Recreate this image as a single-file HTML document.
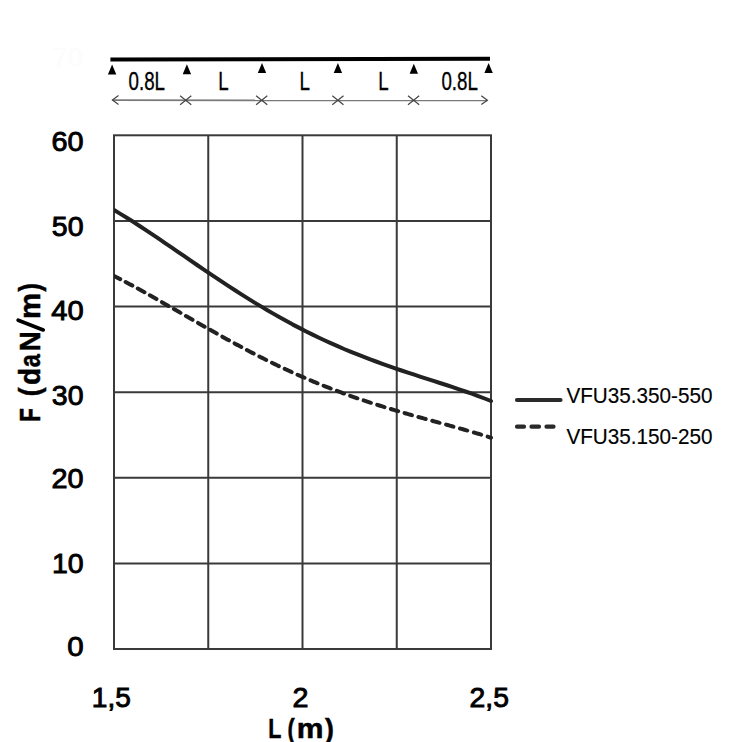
<!DOCTYPE html>
<html><head><meta charset="utf-8"><style>
html,body{margin:0;padding:0;background:#fff;}
svg{display:block;}
text{font-family:"Liberation Sans",sans-serif;}
</style></head><body>
<svg width="742" height="742" viewBox="0 0 742 742">
<rect width="742" height="742" fill="#fff"/>
<text x="83" y="67.3" font-size="27.4" fill="#fcfcfc" text-anchor="end">70</text>
<!-- beam -->
<path d="M110.4 59.4 L490 58.7" stroke="#000" stroke-width="4" fill="none"/>
<g fill="#000">
<path d="M112.1 64.5 L116.3 74.5 L107.9 74.5 Z"/>
<path d="M186.9 64.3 L191.1 74.3 L182.7 74.3 Z"/>
<path d="M262.0 62.9 L266.2 72.9 L257.8 72.9 Z"/>
<path d="M337.9 62.9 L342.1 72.9 L333.7 72.9 Z"/>
<path d="M413.8 63.7 L418.0 73.7 L409.6 73.7 Z"/>
<path d="M488.6 62.9 L492.8 72.9 L484.4 72.9 Z"/>
</g>
<line x1="112.4" y1="100.2" x2="487.4" y2="100.4" stroke="#7a7a7a" stroke-width="1.8"/>
<g stroke="#444" stroke-width="1.2" fill="none">
<path d="M118.5 95.6 L112.4 100.1 L118.5 104.4"/>
<path d="M481.3 95.8 L487.4 100.3 L481.3 104.6"/>
<path d="M180.1 95.8 L185.7 100.3 L180.1 104.8 M191.3 95.8 L185.7 100.3 L191.3 104.8"/>
<path d="M256.1 95.8 L261.7 100.3 L256.1 104.8 M267.3 95.8 L261.7 100.3 L267.3 104.8"/>
<path d="M332.3 95.8 L337.9 100.3 L332.3 104.8 M343.5 95.8 L337.9 100.3 L343.5 104.8"/>
<path d="M408.0 95.8 L413.6 100.3 L408.0 104.8 M419.2 95.8 L413.6 100.3 L419.2 104.8"/>
</g>
<g font-size="26" fill="#000" stroke="#000" stroke-width="0.35" text-anchor="middle">
<text transform="translate(146.8 90.4) scale(0.72 1)" x="0" y="0">0.8L</text>
<text transform="translate(223.5 90.4) scale(0.72 1)" x="0" y="0">L</text>
<text transform="translate(304.6 90.4) scale(0.72 1)" x="0" y="0">L</text>
<text transform="translate(383.5 90.4) scale(0.72 1)" x="0" y="0">L</text>
<text transform="translate(459.6 90.4) scale(0.72 1)" x="0" y="0">0.8L</text>
</g>
<!-- grid -->
<g stroke="#3a3a3a" stroke-width="2" fill="none">
<line x1="208.25" y1="135.30" x2="208.25" y2="649.00"/>
<line x1="302.50" y1="135.30" x2="302.50" y2="649.00"/>
<line x1="396.75" y1="135.30" x2="396.75" y2="649.00"/>
<line x1="114.00" y1="220.92" x2="491.00" y2="220.92"/>
<line x1="114.00" y1="306.53" x2="491.00" y2="306.53"/>
<line x1="114.00" y1="392.15" x2="491.00" y2="392.15"/>
<line x1="114.00" y1="477.77" x2="491.00" y2="477.77"/>
<line x1="114.00" y1="563.38" x2="491.00" y2="563.38"/>
<rect x="114" y="135.3" width="377" height="513.7"/>
</g>
<!-- curves -->
<defs><clipPath id="pc"><rect x="114" y="100" width="400" height="560"/></clipPath></defs>
<g clip-path="url(#pc)">
<path d="M114.0 210.0 L120.4 213.9 L126.8 217.8 L133.2 221.8 L139.6 226.0 L145.9 230.2 L152.3 234.4 L158.7 238.7 L165.1 243.1 L171.5 247.4 L177.9 251.8 L184.3 256.2 L190.7 260.6 L197.1 265.0 L203.5 269.3 L209.8 273.6 L216.2 277.9 L222.6 282.2 L229.0 286.4 L235.4 290.5 L241.8 294.6 L248.2 298.6 L254.6 302.6 L261.0 306.4 L267.4 310.2 L273.7 313.9 L280.1 317.6 L286.5 321.1 L292.9 324.6 L299.3 327.9 L305.7 331.2 L312.1 334.4 L318.5 337.5 L324.9 340.5 L331.3 343.4 L337.6 346.2 L344.0 349.0 L350.4 351.6 L356.8 354.2 L363.2 356.7 L369.6 359.2 L376.0 361.5 L382.4 363.8 L388.8 366.1 L395.2 368.3 L401.5 370.5 L407.9 372.6 L414.3 374.7 L420.7 376.8 L427.1 378.8 L433.5 380.9 L439.9 383.0 L446.3 385.0 L452.7 387.2 L459.1 389.3 L465.4 391.5 L471.8 393.7 L478.2 396.1 L484.6 398.5 L491.0 401.0" stroke="#222" stroke-width="4" fill="none" stroke-linecap="round" stroke-linejoin="round"/>
<path d="M114.00 275.96 L115.24 276.59 L116.48 277.23 L117.72 277.86 L118.95 278.50 L120.19 279.14 M125.65 282.01 L126.99 282.73 L128.33 283.44 L129.67 284.16 L131.01 284.88 L132.35 285.61 M137.79 288.58 L139.12 289.31 L140.45 290.04 L141.78 290.78 L143.11 291.52 L144.44 292.26 M149.86 295.30 L151.19 296.05 L152.51 296.80 L153.83 297.55 L155.15 298.30 L156.48 299.05 M161.90 302.15 L163.22 302.90 L164.54 303.66 L165.86 304.42 L167.17 305.17 L168.49 305.93 M173.92 309.06 L175.24 309.82 L176.56 310.58 L177.87 311.34 L179.19 312.10 L180.51 312.86 M185.96 316.01 L187.28 316.77 L188.59 317.53 L189.91 318.29 L191.23 319.05 L192.54 319.81 M198.02 322.95 L199.34 323.71 L200.66 324.46 L201.98 325.22 L203.30 325.97 L204.62 326.72 M210.14 329.86 L211.46 330.61 L212.79 331.35 L214.11 332.10 L215.44 332.84 L216.76 333.59 M222.32 336.69 L223.65 337.43 L224.98 338.17 L226.31 338.90 L227.64 339.64 L228.97 340.37 M234.59 343.43 L235.92 344.15 L237.26 344.88 L238.60 345.60 L239.94 346.32 L241.28 347.03 M246.95 350.04 L248.29 350.75 L249.64 351.45 L250.99 352.16 L252.34 352.86 L253.68 353.56 M259.42 356.50 L260.77 357.19 L262.13 357.87 L263.49 358.56 L264.84 359.24 L266.20 359.92 M272.00 362.78 L273.37 363.45 L274.74 364.11 L276.10 364.77 L277.47 365.43 L278.84 366.09 M284.71 368.86 L286.09 369.51 L287.47 370.15 L288.85 370.79 L290.23 371.42 L291.61 372.05 M297.55 374.73 L298.94 375.35 L300.33 375.96 L301.72 376.57 L303.12 377.18 L304.51 377.79 M310.52 380.36 L311.92 380.95 L313.32 381.54 L314.73 382.13 L316.13 382.71 L317.54 383.29 M323.62 385.75 L325.03 386.31 L326.45 386.87 L327.86 387.43 L329.28 387.98 L330.69 388.53 M336.85 390.89 L338.27 391.42 L339.69 391.95 L341.12 392.48 L342.55 393.01 L343.97 393.53 M350.20 395.77 L351.63 396.28 L353.06 396.78 L354.50 397.28 L355.93 397.78 L357.37 398.28 M363.66 400.41 L365.10 400.89 L366.54 401.37 L367.98 401.85 L369.43 402.32 L370.87 402.79 M377.22 404.83 L378.67 405.28 L380.12 405.74 L381.57 406.19 L383.02 406.64 L384.47 407.09 M390.87 409.03 L392.33 409.47 L393.78 409.90 L395.24 410.34 L396.70 410.77 L398.16 411.20 M404.60 413.07 L406.06 413.49 L407.52 413.91 L408.99 414.32 L410.45 414.74 L411.91 415.15 M418.40 416.97 L419.86 417.38 L421.32 417.79 L422.79 418.19 L424.25 418.60 L425.72 419.01 M432.24 420.80 L433.70 421.20 L435.17 421.61 L436.63 422.01 L438.10 422.41 L439.56 422.81 M446.11 424.61 L447.57 425.01 L449.04 425.42 L450.50 425.82 L451.97 426.23 L453.43 426.64 M459.99 428.47 L461.45 428.89 L462.91 429.30 L464.38 429.72 L465.84 430.13 L467.30 430.55 M473.86 432.46 L475.32 432.89 L476.77 433.33 L478.23 433.76 L479.69 434.20 L481.14 434.64 M487.69 436.66 L488.36 436.87 L489.02 437.08 L489.68 437.29 L490.34 437.50 L491.00 437.71" stroke="#222" stroke-width="4" fill="none" stroke-linecap="round" />
</g>
<!-- y labels -->
<text transform="translate(51.48 151.30) scale(1.053 1)" font-size="27.40" font-weight="normal" stroke="#000" stroke-width="0.90">60</text>
<text transform="translate(51.81 236.30) scale(1.042 1)" font-size="27.40" font-weight="normal" stroke="#000" stroke-width="0.90">50</text>
<text transform="translate(51.18 320.00) scale(1.064 1)" font-size="27.40" font-weight="normal" stroke="#000" stroke-width="0.90">40</text>
<text transform="translate(51.87 404.50) scale(1.040 1)" font-size="27.40" font-weight="normal" stroke="#000" stroke-width="0.90">30</text>
<text transform="translate(51.51 488.20) scale(1.052 1)" font-size="27.40" font-weight="normal" stroke="#000" stroke-width="0.90">20</text>
<text transform="translate(51.89 572.90) scale(1.040 1)" font-size="27.40" font-weight="normal" stroke="#000" stroke-width="0.90">10</text>
<text transform="translate(67.20 655.60) scale(1.077 1)" font-size="27.40" font-weight="normal" stroke="#000" stroke-width="0.90">0</text>
<text transform="translate(91.82 707.20) scale(1.010 1)" font-size="27.80" font-weight="normal" stroke="#000" stroke-width="0.90">1,5</text>
<text transform="translate(292.41 707.20) scale(1.033 1)" font-size="27.80" font-weight="normal" stroke="#000" stroke-width="0.90">2</text>
<text transform="translate(469.53 707.20) scale(1.020 1)" font-size="27.80" font-weight="normal" stroke="#000" stroke-width="0.90">2,5</text>
<text transform="translate(268.31 738.40) scale(0.758 1)" font-size="28.30" font-weight="bold" stroke="#000" stroke-width="0.50">L</text>
<text transform="translate(287.57 738.40) scale(0.764 1)" font-size="28.30" font-weight="bold" stroke="#000" stroke-width="0.50">(</text>
<text transform="translate(296.66 738.40) scale(1.063 1)" font-size="28.30" font-weight="bold" stroke="#000" stroke-width="0.50">m</text>
<text transform="translate(325.02 738.40) scale(0.940 1)" font-size="28.30" font-weight="bold" stroke="#000" stroke-width="0.50">)</text>
<line x1="18.2" y1="320.2" x2="43.2" y2="329.9" stroke="#000" stroke-width="3.8" stroke-linecap="round"/>
<text transform="translate(40.10 421.64) rotate(-90) scale(0.771 1)" font-size="28.90" font-weight="bold" stroke="#000" stroke-width="0.50">F</text>
<text transform="translate(40.10 396.18) rotate(-90) scale(0.920 1)" font-size="28.90" font-weight="bold" stroke="#000" stroke-width="0.50">(</text>
<text transform="translate(40.10 385.10) rotate(-90) scale(0.968 1)" font-size="28.90" font-weight="bold" stroke="#000" stroke-width="0.50">d</text>
<text transform="translate(40.10 367.24) rotate(-90) scale(0.823 1)" font-size="28.90" font-weight="bold" stroke="#000" stroke-width="0.50">a</text>
<text transform="translate(40.10 351.43) rotate(-90) scale(0.971 1)" font-size="28.90" font-weight="bold" stroke="#000" stroke-width="0.50">N</text>
<text transform="translate(40.10 318.98) rotate(-90) scale(1.009 1)" font-size="28.90" font-weight="bold" stroke="#000" stroke-width="0.50">m</text>
<text transform="translate(40.10 291.58) rotate(-90) scale(0.871 1)" font-size="28.90" font-weight="bold" stroke="#000" stroke-width="0.50">)</text>
<!-- legend -->
<line x1="517" y1="400" x2="560.5" y2="400" stroke="#2a2a2a" stroke-width="4.2" stroke-linecap="round"/>
<path d="M517 426.7 L524 426.7 M531.5 426.7 L539 426.7 M546.5 426.7 L553.5 426.7" stroke="#2a2a2a" stroke-width="4.2" stroke-linecap="round"/>
<g font-size="21.8" fill="#000" stroke="#000" stroke-width="0.15">
<text transform="translate(566.4 402.9) scale(0.95 1)">VFU35.350-550</text>
<text transform="translate(566.4 443.8) scale(0.95 1)">VFU35.150-250</text>
</g>
</svg>
</body></html>
